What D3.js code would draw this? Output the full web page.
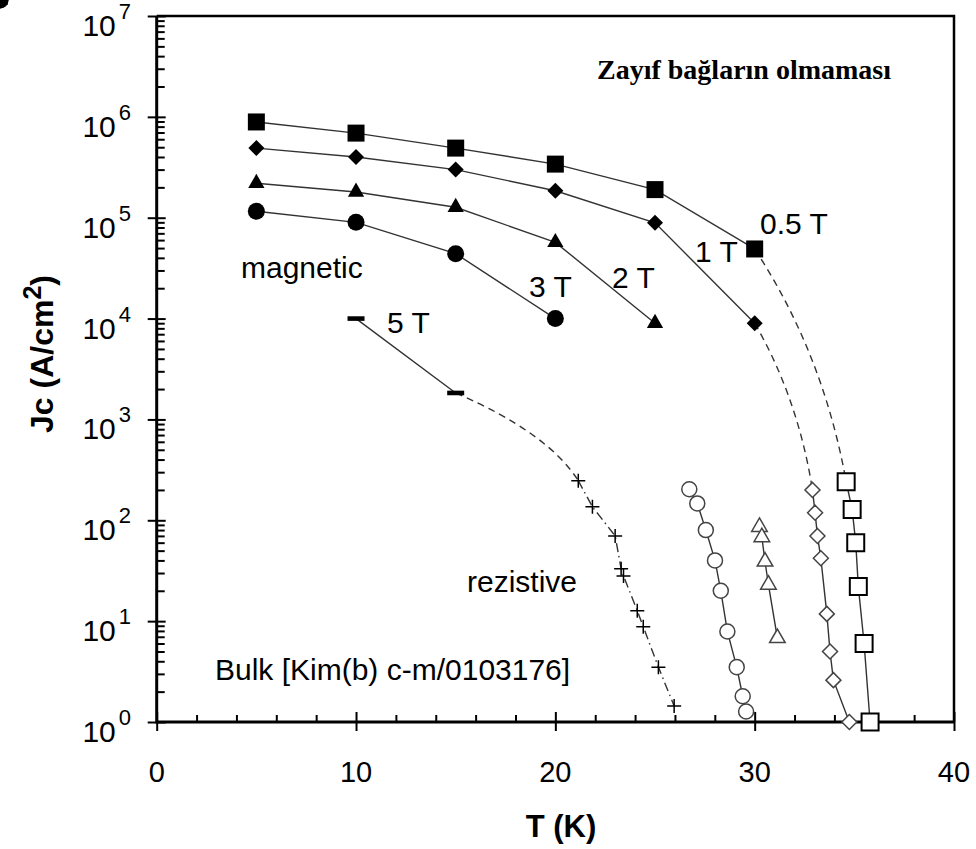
<!DOCTYPE html>
<html>
<head>
<meta charset="utf-8">
<title>Jc(T)</title>
<script src="https://cdn.jsdelivr.net/npm/d3@7"></script>
<style>
body { margin: 0; background: #fff; }
text { font-family: "Liberation Sans", Arial, sans-serif; fill: #000; }
.lbl { font-size: 30px; }
.tlbl { font-size: 29px; }
.conn { fill: none; stroke: #333; stroke-width: 1.4px; }
.dash { stroke-dasharray: 7,5; }
.dashdot { stroke-dasharray: 9,4,1.5,4; }
.ax { stroke: #000; stroke-width: 3px; fill: none; }
.frame { stroke: #000; stroke-width: 2.5px; fill: none; }
.tick line { stroke: #000; stroke-width: 2px; }
</style>
</head>
<body>
<div id="chart"></div>
<script>
var width = 976, height = 849;

// magnetic (filled markers)
var T_mag = [5, 10, 15, 20, 25, 30];
var jc_05T = [8.9e5, 6.9e5, 4.9e5, 3.4e5, 1.9e5, 4.9e4];
var jc_1T = [4.9e5, 4.0e5, 3.0e5, 1.85e5, 8.9e4, 9.0e3];
var jc_2T = [2.2e5, 1.8e5, 1.27e5, 5.7e4, 9.0e3];
var jc_3T = [1.16e5, 9.0e4, 4.4e4, 1.0e4];
var T_5T = [10, 15];
var jc_5T = [1.0e4, 1.83e3];

// resistive (open markers)
var Tr_05T = [34.59, 34.89, 35.07, 35.20, 35.49, 35.79];
var jr_05T = [241, 128, 60, 22, 6.0, 1.0];
var Tr_1T = [32.90, 33.03, 33.15, 33.32, 33.62, 33.78, 33.95, 34.75];
var jr_1T = [200, 119, 70, 42, 11.8, 5.0, 2.6, 1.0];
var Tr_2T = [30.24, 30.36, 30.52, 30.69, 31.14];
var jr_2T = [86, 68, 39, 23, 6.8];
var Tr_3T = [26.72, 27.12, 27.55, 28.01, 28.30, 28.63, 29.10, 29.40, 29.57];
var jr_3T = [203, 147, 80, 40, 20, 7.9, 3.5, 1.8, 1.27];
var Tr_5T = [21.15, 21.86, 23.00, 23.30, 23.42, 24.11, 24.41, 25.17, 25.96];
var jr_5T = [247, 136, 70, 33, 28, 12.7, 8.8, 3.5, 1.44];

var xMajor = [0, 10, 20, 30, 40];
var xMinor = [2, 4, 6, 8, 12, 14, 16, 18, 22, 24, 26, 28, 32, 34, 36, 38];
var yExp = [0, 1, 2, 3, 4, 5, 6, 7];

var svg = d3.select("#chart").append("svg")
	.attr("width", width).attr("height", height);

var x = d3.scaleLinear().domain([0, 40]).range([156.7, 954]);
var y = d3.scaleLog().domain([1, 1e7]).range([722, 16]);

function zip(T, J) {
	return T.map(function(t, i) { return [t, J[i]]; });
}

var series = [
	{ mag: zip(T_mag, jc_05T), res: zip(Tr_05T, jr_05T), fill: "square", open: "square" },
	{ mag: zip(T_mag, jc_1T), res: zip(Tr_1T, jr_1T), fill: "diamond", open: "diamond" },
	{ mag: zip(T_mag, jc_2T), res: zip(Tr_2T, jr_2T), fill: "triangle", open: "triangle" },
	{ mag: zip(T_mag, jc_3T), res: zip(Tr_3T, jr_3T), fill: "circle", open: "circle" },
	{ mag: zip(T_5T, jc_5T), res: zip(Tr_5T, jr_5T), fill: "bar", open: "plus" }
];

var line = d3.line().x(function(d) { return x(d[0]); }).y(function(d) { return y(d[1]); });

function shape(kind, open) {
	if (kind == "square") { var s = 17; return "M" + (-s/2) + "," + (-s/2) + "h" + s + "v" + s + "h" + (-s) + "Z"; }
	if (kind == "diamond") { var d = open ? 15 : 16; return "M0," + (-d/2) + "L" + (d/2) + ",0L0," + (d/2) + "L" + (-d/2) + ",0Z"; }
	if (kind == "triangle") return d3.symbol(d3.symbolTriangle, open ? 105 : 115)();
	if (kind == "circle") return d3.symbol(d3.symbolCircle, open ? 177 : 227)();
	if (kind == "bar") return "M-8.5,-2.3h17v4.6h-17Z";
	if (kind == "plus") return "M-7,0H7M0,-7V7";
}

// axes first, markers sit on top of them
var gx = svg.append("g").attr("transform", "translate(0,722)");
gx.append("g").call(d3.axisBottom(x).tickValues(xMajor).tickSize(9).tickFormat(""));
gx.append("g").call(d3.axisTop(x).tickValues(xMajor).tickSize(10).tickFormat(""));
gx.append("g").call(d3.axisTop(x).tickValues(xMinor).tickSize(7).tickFormat(""));
gx.selectAll(".domain").remove();

var decades = yExp.map(function(e) { return Math.pow(10, e); });
var minor = y.ticks().filter(function(v) { return decades.indexOf(v) < 0; });
var gy = svg.append("g").attr("transform", "translate(156.7,0)");
gy.append("g").call(d3.axisLeft(y).tickValues(decades).tickSize(9).tickFormat(""));
gy.append("g").call(d3.axisRight(y).tickValues(decades).tickSize(9).tickFormat(""));
gy.append("g").call(d3.axisRight(y).tickValues(minor).tickSize(8).tickFormat(""));
gy.selectAll(".domain").remove();

svg.append("path").attr("class", "frame")
	.attr("d", "M" + x(0) + "," + y(1e7) + "H" + x(40) + "V" + y(1));
svg.append("path").attr("class", "ax")
	.attr("d", "M" + x(0) + "," + y(1e7) + "V" + y(1) + "H" + x(40));

svg.selectAll(".xl").data(xMajor).enter().append("text")
	.attr("class", "tlbl").attr("text-anchor", "middle")
	.attr("x", function(d) { return x(d); }).attr("y", 782)
	.text(function(d) { return d; });

var yl = svg.selectAll(".yl").data(yExp).enter().append("text")
	.attr("text-anchor", "end").style("font-size", "30px")
	.attr("x", 131).attr("y", function(d) { return y(Math.pow(10, d)) + 20; });
yl.append("tspan").text("10");
yl.append("tspan").attr("dx", 3).attr("dy", -17).style("font-size", "22px").text(function(d) { return d; });

// lines
series.forEach(function(s) {
	svg.append("path").attr("class", "conn").attr("d", line(s.mag));
	var p0 = s.mag[s.mag.length - 1], p1 = s.res[0];
	var x0 = x(p0[0]), y0 = y(p0[1]), x1 = x(p1[0]), y1 = y(p1[1]);
	var cx = x0 + 0.75 * (x1 - x0), cy = y0 + 0.45 * (y1 - y0);
	svg.append("path").attr("class", "conn dash")
		.attr("d", "M" + x0 + "," + y0 + "Q" + cx + "," + cy + " " + x1 + "," + y1);
	svg.append("path").attr("class", s.open == "plus" ? "conn dashdot" : "conn")
		.attr("d", line(s.res));
});

// markers
series.forEach(function(s) {
	svg.selectAll(null).data(s.mag).enter().append("path")
		.attr("transform", function(d) { return "translate(" + x(d[0]) + "," + y(d[1]) + ")"; })
		.attr("d", shape(s.fill, false))
		.attr("fill", "#000");
	svg.selectAll(null).data(s.res).enter().append("path")
		.attr("transform", function(d) { return "translate(" + x(d[0]) + "," + y(d[1]) + ")"; })
		.attr("d", shape(s.open, true))
		.attr("fill", s.open == "plus" ? "none" : "#fff")
		.attr("stroke", s.open == "square" || s.open == "plus" ? "#000" : "#444")
		.attr("stroke-width", s.open == "square" ? 2 : 1.5);
});

// annotations
var notes = [
	["0.5 T", 760, 234], ["1 T", 695, 262], ["2 T", 612, 288], ["3 T", 529, 297],
	["5 T", 387, 333], ["magnetic", 241, 278], ["rezistive", 467, 592],
	["Bulk [Kim(b) c-m/0103176]", 215, 680]
];
svg.selectAll(".note").data(notes).enter().append("text")
	.attr("class", "lbl")
	.attr("x", function(d) { return d[1]; }).attr("y", function(d) { return d[2]; })
	.text(function(d) { return d[0]; });

svg.append("text").attr("x", 597).attr("y", 79)
	.style("font-family", "'Liberation Serif', 'Times New Roman', serif")
	.style("font-weight", "bold").style("font-size", "28px")
	.text("Zayıf bağların olmaması");

svg.append("text").attr("x", 561).attr("y", 837).attr("text-anchor", "middle")
	.style("font-weight", "bold").style("font-size", "31px").text("T (K)");

var ylab = svg.append("text").attr("transform", "translate(53,354) rotate(-90)")
	.attr("text-anchor", "middle").style("font-weight", "bold").style("font-size", "32px");
ylab.append("tspan").text("Jc (A/cm");
ylab.append("tspan").attr("dy", -12).style("font-size", "25px").text("2");
ylab.append("tspan").attr("dy", 12).text(")");
</script>
</body>
</html>
